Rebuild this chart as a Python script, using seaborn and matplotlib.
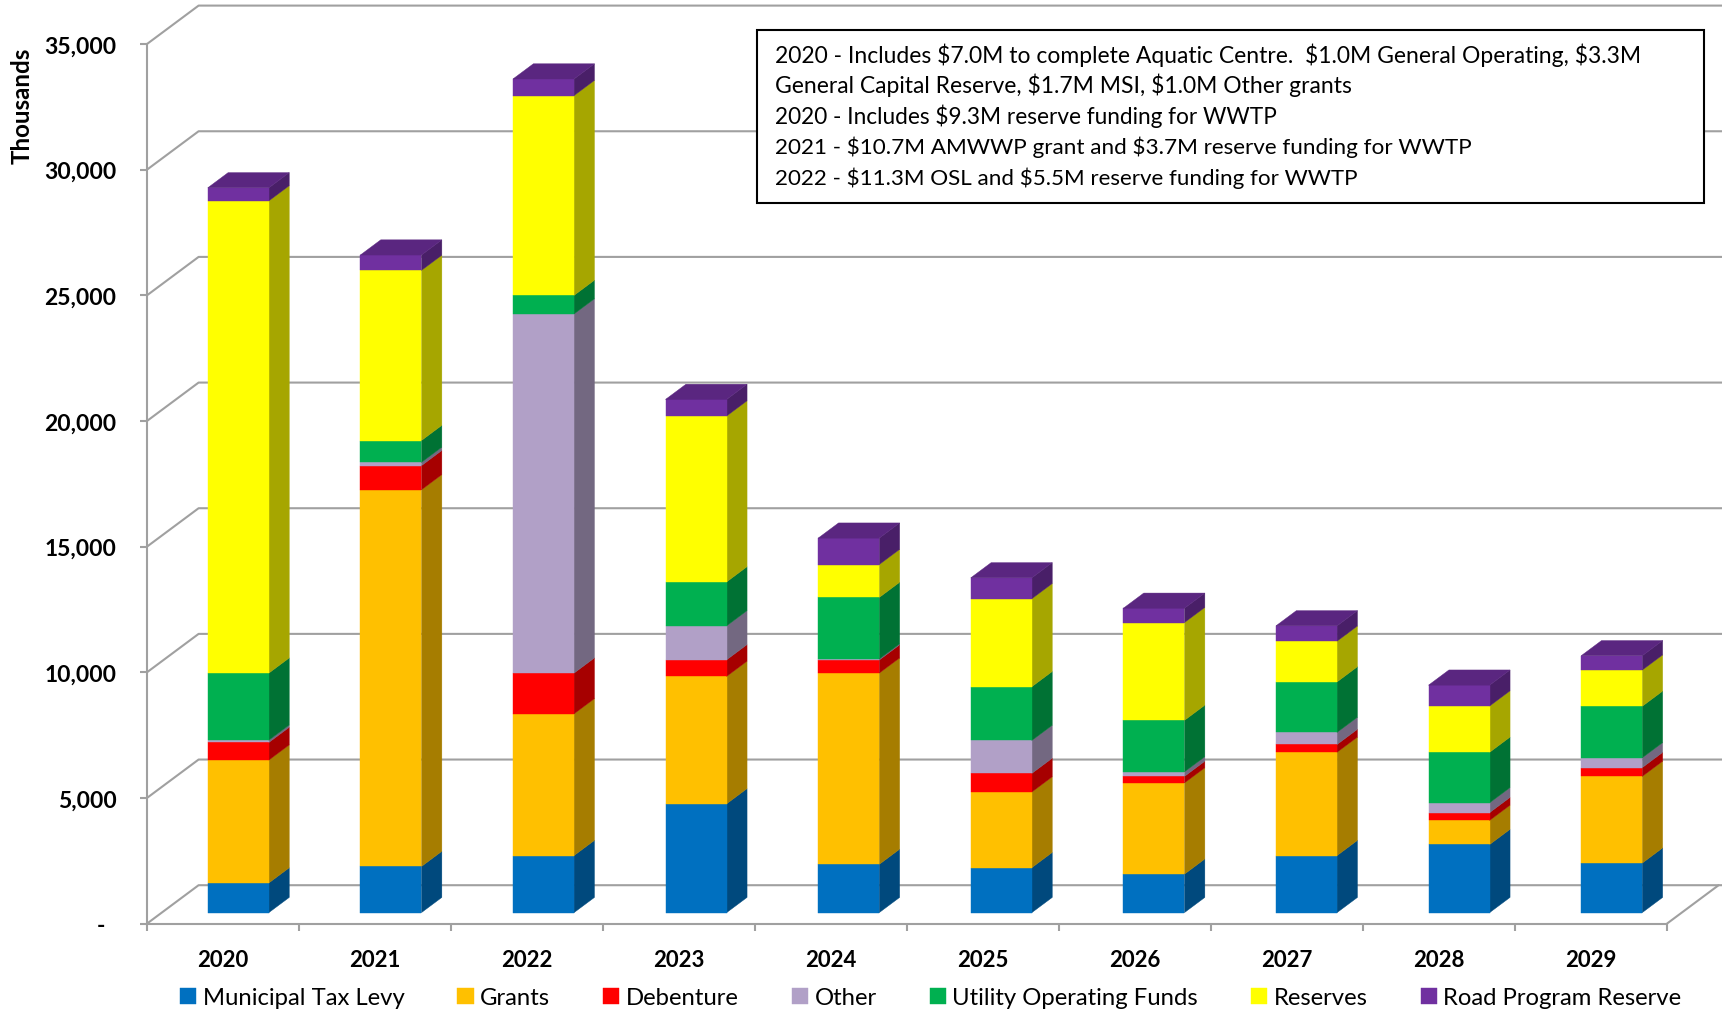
import numpy as np
import matplotlib
matplotlib.use("Agg")
import matplotlib.pyplot as plt
import seaborn as sns
from matplotlib.patches import Polygon, Rectangle
from matplotlib.lines import Line2D
from matplotlib.transforms import Affine2D, IdentityTransform
import matplotlib.colors as mc

years = ["2020", "2021", "2022", "2023", "2024", "2025", "2026", "2027", "2028", "2029"]
municipal_tax_levy = [1180, 1835, 2270, 4330, 1920, 1790, 1530, 2270, 2710, 1970]
grants = [4890, 14990, 5640, 5070, 7610, 3010, 3630, 4110, 960, 3450]
debenture = [700, 960, 1620, 660, 520, 740, 260, 310, 310, 350]
other = [90, 130, 14290, 1350, 40, 1310, 180, 480, 390, 390]
utility_operating_funds = [2670, 870, 740, 1750, 2450, 2140, 2050, 2010, 2010, 2050]
reserves = [18790, 6770, 7950, 6600, 1310, 3500, 3890, 1620, 1840, 1440]
road_program_reserve = [520, 610, 660, 660, 1050, 830, 570, 610, 830, 570]

series_names = ["Municipal Tax Levy", "Grants", "Debenture", "Other",
                "Utility Operating Funds", "Reserves", "Road Program Reserve"]
series_values = [municipal_tax_levy, grants, debenture, other,
                 utility_operating_funds, reserves, road_program_reserve]
series_colors = ["#0070C0", "#FFC000", "#FF0000", "#B1A0C7", "#00B050", "#FFFF00", "#7030A0"]
y_ticks = [0, 5000, 10000, 15000, 20000, 25000, 30000, 35000]
y_labels = ["-  ", "5,000", "10,000", "15,000", "20,000", "25,000", "30,000", "35,000"]
notes = ["2020 - Includes $7.0M to complete Aquatic Centre.  $1.0M General Operating, $3.3M",
         "General Capital Reserve, $1.7M MSI, $1.0M Other grants",
         "2020 - Includes $9.3M reserve funding for WWTP",
         "2021 - $10.7M AMWWP grant and $3.7M reserve funding for WWTP",
         "2022 - $11.3M OSL and $5.5M reserve funding for WWTP"]

sns.set_theme(style="white")
FONT = ["Lato", "DejaVu Sans"]
plt.rcParams["font.family"] = FONT

W, H = 1722, 1013
fig = plt.figure(figsize=(W / 100, H / 100), dpi=100, facecolor="white")
L, R, T, B = 147.0, 1667.0, 44.0, 923.6
ax = fig.add_axes([L / W, 1 - B / H, (R - L) / W, (B - T) / H])
ax.patch.set_alpha(0)

# depth vectors in pixels
WALL = np.array([51.6, 38.4])
BAR_OFF = np.array([15.3, 11.0])
BAR_STEP = 0.6   # bars are spaced a touch wider than the axis categories
BAR_DEPTH = np.array([20.4, 15.2])

bottom = np.zeros(len(years))
layers = []
for name, vals, col in zip(series_names, series_values, series_colors):
    before = len(ax.patches)
    sns.barplot(x=years, y=vals, bottom=bottom, color=col, saturation=1, width=0.402,
                label=name, ax=ax, zorder=3, legend=False, errorbar=None)
    layers.append((ax.patches[before:], col))
    bottom = bottom + np.array(vals)

ax.set_xlim(-0.5, 9.5)
ax.set_ylim(0, 35000)

gray = "#A0A0A0"
# ---- axes, ticks
for s in ["top", "right"]:
    ax.spines[s].set_visible(False)
for s in ["left", "bottom"]:
    ax.spines[s].set_color(gray)
    ax.spines[s].set_linewidth(1.5)
ax.set_yticks(y_ticks, labels=y_labels)
ax.set_xticks(np.arange(-0.5, 10), labels=[""] * 11)
ax.set_xticks(np.arange(10), labels=years, minor=True)
ax.tick_params(axis="both", which="major", length=5, width=1.5, color=gray, left=True, bottom=True)
ax.tick_params(axis="x", which="minor", length=0, pad=19, labelsize=16, bottom=False)
ax.tick_params(axis="y", which="major", pad=17, labelsize=16.5)
for t in ax.get_xticklabels(minor=True) + ax.get_yticklabels():
    t.set_fontweight("bold")
    t.set_color("black")
for t in ax.get_yticklabels():
    t.set_transform(t.get_transform() + Affine2D().translate(0, -1))
ax.set_xlabel("")
ax.set_ylabel("Thousands", fontsize=17.4, fontweight="bold", color="black")
ax.yaxis.set_label_coords((34 - L) / (R - L), (B - 106) / (B - T))

fig.canvas.draw()
D = ax.transData.transform

# ---- back wall and floor lines
for v in y_ticks:
    p0 = D((-0.5, v))
    p1 = p0 + WALL
    ax.add_line(Line2D([p0[0], p1[0], W + 5], [p0[1], p1[1], p1[1]], transform=IdentityTransform(),
                       color=gray, lw=1.5, zorder=1, clip_on=False))
pr = D((9.5, 0))
ax.add_line(Line2D([pr[0], pr[0] + WALL[0]], [pr[1], pr[1] + WALL[1]], transform=IdentityTransform(),
                   color=gray, lw=1.5, zorder=1, clip_on=False))


def darken(c, f):
    return tuple(np.array(mc.to_rgb(c)) * f)


# ---- bars: front faces from seaborn, depth faces derived from them
z = 3.0
for i in range(len(years)):
    off = BAR_OFF + np.array([BAR_STEP * i, 0.0])
    tf = ax.transData + Affine2D().translate(*off)
    for patches, col in layers:
        p = patches[i]
        x0, y0, w, h = p.get_x(), p.get_y(), p.get_width(), p.get_height()
        a = D((x0 + w, y0)) + off
        b = D((x0 + w, y0 + h)) + off
        side = Polygon([a, a + BAR_DEPTH, b + BAR_DEPTH, b], closed=True, transform=IdentityTransform(),
                       facecolor=darken(col, 0.65), edgecolor=darken(col, 0.65), lw=0.3, zorder=z, clip_on=False)
        ax.add_patch(side)
        p.set_transform(tf)
        p.set_clip_on(False)
        p.set_facecolor(col)
        p.set_edgecolor(col)
        p.set_linewidth(0.3)
        p.set_zorder(z + 0.1)
        z += 0.2
    patches, col = layers[-1]
    p = patches[i]
    x0, y0, w, h = p.get_x(), p.get_y(), p.get_width(), p.get_height()
    c = D((x0, y0 + h)) + off
    d = D((x0 + w, y0 + h)) + off
    top = Polygon([c, d, d + BAR_DEPTH, c + BAR_DEPTH], closed=True, transform=IdentityTransform(),
                  facecolor=darken(col, 0.8), edgecolor=darken(col, 0.8), lw=0.3, zorder=z, clip_on=False)
    ax.add_patch(top)
    z += 0.2

# ---- note box
fig.add_artist(Rectangle((757 / W, 1 - 203 / H), (1704 - 757) / W, (203 - 30) / H, transform=fig.transFigure,
                         facecolor="white", edgecolor="black", lw=1.5, zorder=50))
for s, yp, fs in zip(notes, [55, 85.5, 116, 147, 178], [16.5, 16.5, 16.25, 16.2, 16.15]):
    fig.text(775 / W, 1 - yp / H, s, fontsize=fs, color="black", va="center", ha="left", zorder=51,
             parse_math=False)

# ---- legend
h, l = ax.get_legend_handles_labels()
leg = ax.legend(h, l, ncol=7, frameon=False, fontsize=17.2, loc="center left",
                bbox_to_anchor=(0.0, 0.5), bbox_transform=fig.transFigure,
                handlelength=0.68, handleheight=0.68, handletextpad=0.27, columnspacing=2.22,
                labelcolor="black", borderpad=0, borderaxespad=0)
leg.set_bbox_to_anchor((180 / W, 1 - 998 / H), transform=fig.transFigure)
leg.set_zorder(60)

fig.savefig("out.png", dpi=100, facecolor="white")
